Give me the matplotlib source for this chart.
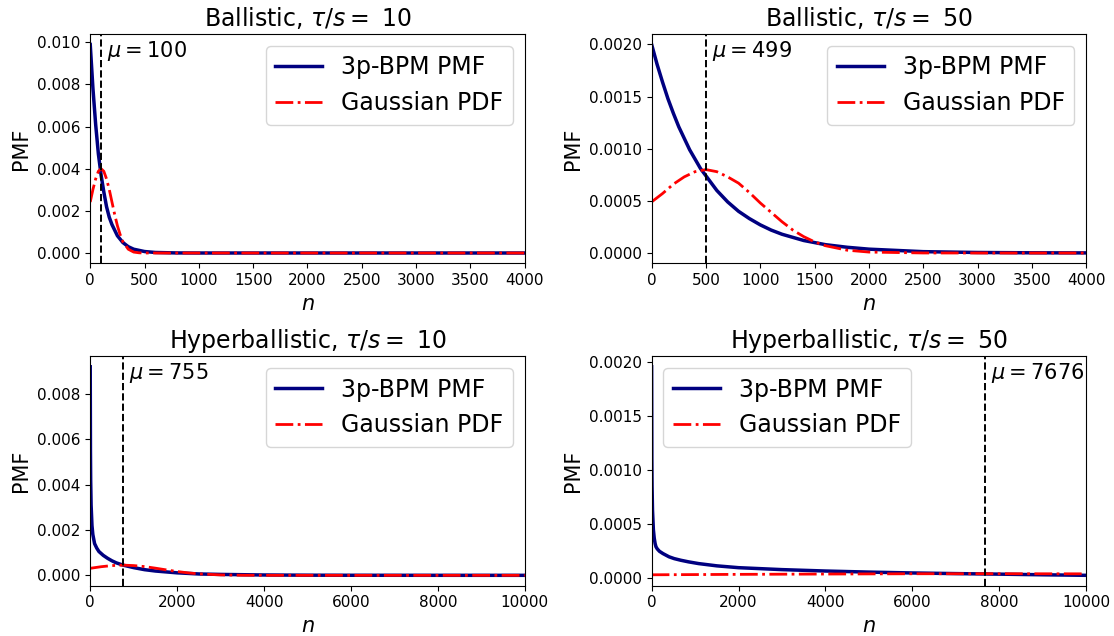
import matplotlib
matplotlib.use("Agg")
import matplotlib.pyplot as plt

# values
# Ballistic, tau/s = 10
n_b10 = [0, 25, 50, 75, 100, 125, 150, 175, 200, 250, 300, 350, 400, 500, 600, 800, 1000, 2000, 3000, 4000]
pmf_b10 = [0.0099, 0.0078, 0.0061, 0.0047, 0.0037, 0.0029, 0.0022, 0.0017, 0.00135, 0.00082, 0.00050,
           0.00030, 0.00018, 0.00007, 0.000025, 0.000003, 0.0, 0.0, 0.0, 0.0]
ng_b10 = [0, 25, 50, 75, 100, 125, 150, 175, 200, 225, 250, 275, 300, 350, 400, 450, 500, 600, 1000, 2000, 4000]
gauss_b10 = [0.00242, 0.00302, 0.00352, 0.00388, 0.00400, 0.00388, 0.00352, 0.00302, 0.00242,
             0.00183, 0.00130, 0.00088, 0.00054, 0.00018, 0.000044, 0.000009, 0.000001, 0.0, 0.0, 0.0, 0.0]

# Ballistic, tau/s = 50
n_b50 = [0, 50, 100, 150, 200, 250, 300, 350, 400, 450, 500, 600, 700, 800, 900, 1000, 1100, 1200,
         1300, 1400, 1500, 1600, 1800, 2000, 2500, 3000, 3500, 4000]
pmf_b50 = [0.00200, 0.00181, 0.00164, 0.00148, 0.00134, 0.00121, 0.00110, 0.00099, 0.00090,
           0.00081, 0.00074, 0.00060, 0.00049, 0.00040, 0.00033, 0.00027, 0.00022, 0.00018,
           0.00015, 0.00012, 0.00010, 0.00008, 0.000055, 0.000037, 0.000013, 0.000005,
           0.000002, 0.000001]
ng_b50 = [0, 100, 200, 300, 400, 500, 600, 700, 800, 900, 1000, 1100, 1200, 1300, 1400, 1500,
          1600, 1800, 2000, 2500, 3000, 3500, 4000]
gauss_b50 = [0.00049, 0.00057, 0.00066, 0.00073, 0.00078, 0.00080, 0.00078, 0.00073, 0.00067,
             0.00058, 0.00048, 0.00039, 0.00030, 0.00022, 0.000157, 0.000107, 0.00007, 0.000027,
             0.000009, 0.0000003, 0.0, 0.0, 0.0]

# Hyperballistic, tau/s = 10
n_h10 = [0, 5, 10, 20, 40, 60, 80, 100, 150, 200, 300, 400, 500, 600, 755, 1000, 1250, 1500,
         2000, 2500, 3000, 4000, 5000, 6000, 8000, 10000]
pmf_h10 = [0.0092, 0.0055, 0.0042, 0.0031, 0.0022, 0.0018, 0.0016, 0.0014, 0.0012, 0.00105,
           0.00088, 0.00075, 0.00064, 0.00055, 0.00045, 0.00034, 0.00025, 0.00019, 0.00011,
           0.00006, 0.00004, 0.000015, 0.000006, 0.000003, 0.000001, 0.0]
ng_h10 = [0, 250, 500, 755, 1000, 1250, 1500, 1750, 2000, 2250, 2500, 3000, 3500, 4000, 5000, 10000]
gauss_h10 = [0.00031, 0.00038, 0.00043, 0.00045, 0.00043, 0.000385, 0.000316, 0.00024, 0.000168,
             0.000109, 0.000065, 0.000018, 0.0000037, 0.0000005, 0.0, 0.0]

# Hyperballistic, tau/s = 50
n_h50 = [0, 5, 10, 20, 40, 60, 80, 100, 130, 180, 260, 400, 520, 670, 850, 1080, 1500, 2000,
         3000, 4000, 5000, 6000, 7000, 8000, 9000, 10000]
pmf_h50 = [0.00196, 0.0011, 0.00085, 0.00063, 0.00045, 0.00037, 0.00032, 0.00029, 0.00027,
           0.000248, 0.000227, 0.000197, 0.00018, 0.000165, 0.00015, 0.000134, 0.000113,
           0.000096, 0.000078, 0.000065, 0.000055, 0.000047, 0.000041, 0.000036, 0.000030,
           0.000025]
ng_h50 = [0, 2000, 4000, 6000, 7676, 10000]
gauss_h50 = [0.000030, 0.000034, 0.000037, 0.0000396, 0.000040, 0.0000389]

panels = [
    ("Ballistic", 10, 100, 4000, n_b10, pmf_b10, ng_b10, gauss_b10, "upper right"),
    ("Ballistic", 50, 499, 4000, n_b50, pmf_b50, ng_b50, gauss_b50, "upper right"),
    ("Hyperballistic", 10, 755, 10000, n_h10, pmf_h10, ng_h10, gauss_h10, "upper right"),
    ("Hyperballistic", 50, 7676, 10000, n_h50, pmf_h50, ng_h50, gauss_h50, "upper left"),
]

fig, axes = plt.subplots(2, 2, figsize=(11.14, 6.36), dpi=100)
plt.subplots_adjust(left=0.081, right=0.975, top=0.9465, bottom=0.079, wspace=0.292, hspace=0.405)

for ax, (kind, ts, mu, xmax, n, pmf, ng, gauss, loc) in zip(axes.flat, panels):
    ax.plot(n, pmf, color="navy", lw=2.5, label="3p-BPM PMF")
    ax.plot(ng, gauss, color="red", ls="-.", lw=2, label="Gaussian PDF")
    ax.axvline(mu, color="k", ls="--", lw=1.4)
    ax.text(mu, 0.98, r" $\mu = %d$" % mu, transform=ax.get_xaxis_transform(),
            va="top", ha="left", fontsize=15)
    ax.set_xlim(0, xmax)
    ax.set_title(r"%s, $\tau/s = $ %d" % (kind, ts), fontsize=17)
    ax.set_xlabel(r"$n$", fontsize=15)
    ax.set_ylabel("PMF", fontsize=15)
    ax.tick_params(labelsize=11)
    ax.legend(loc=loc, fontsize=17)

plt.savefig("out.png", dpi=100)
